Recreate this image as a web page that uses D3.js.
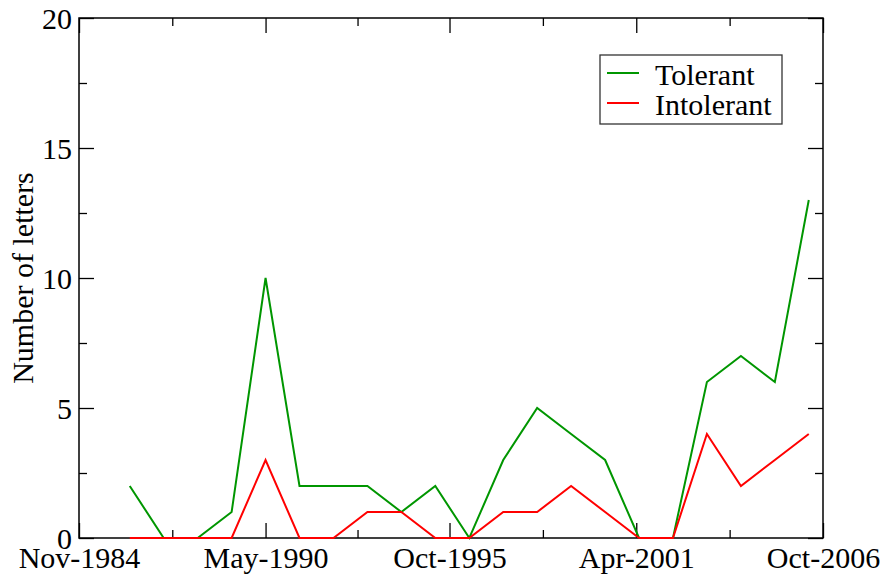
<!DOCTYPE html>
<html>
<head>
<meta charset="utf-8">
<script src="https://cdn.jsdelivr.net/npm/d3@7"></script>
<style>
  body { margin: 0; background: #fff; }
</style>
</head>
<body>
<div id="chart"></div>
<script>
// Data (one point per year, plotted in May)

const years = ["May-1986", "May-1987", "May-1988", "May-1989", "May-1990", "May-1991", "May-1992",
  "May-1993", "May-1994", "May-1995", "May-1996", "May-1997", "May-1998", "May-1999",
  "May-2000", "May-2001", "May-2002", "May-2003", "May-2004", "May-2005", "May-2006"];
const tolerant = [2, 0, 0, 1, 10, 2, 2, 2, 1, 2, 0, 3, 5, 4, 3, 0, 0, 6, 7, 6, 13];
const intolerant = [0, 0, 0, 0, 3, 0, 0, 1, 1, 0, 0, 1, 1, 2, 1, 0, 0, 4, 2, 3, 4];

const xTickLabels = ["Nov-1984", "May-1990", "Oct-1995", "Apr-2001", "Oct-2006"];
const yTicks = [0, 5, 10, 15, 20];
const yMinorTicks = [2.5, 7.5, 12.5, 17.5];

const font = "'Liberation Serif', 'DejaVu Serif', serif";

// Dimensions

const margin = { top: 18, right: 62, bottom: 37, left: 79 };
const width = 885 - margin.left - margin.right;
const height = 575 - margin.top - margin.bottom;

const parseDate = d3.timeParse("%b-%Y");
const xTicks = xTickLabels.map(parseDate);
const xMinorTicks = d3.pairs(xTicks).map(([a, b]) => new Date((+a + +b) / 2));

const series = [
  { name: "Tolerant", color: "#009600", values: tolerant },
  { name: "Intolerant", color: "#ff0000", values: intolerant }
];

// Scales

const x = d3.scaleTime()
    .domain([xTicks[0], xTicks[xTicks.length - 1]])
    .range([0, width]);

const y = d3.scaleLinear()
    .domain([0, 20])
    .range([height, 0]);

const svg = d3.select("#chart")
    .append("svg")
        .attr("width", 885)
        .attr("height", 575)
        .attr("font-family", font)
    .append("g")
        .attr("transform", `translate(${margin.left},${margin.top})`);

// Axes: ticks point inwards on all four sides

function styleAxis(g) {
    g.attr("font-family", font);
    g.select(".domain").remove();
    g.selectAll(".tick line").attr("stroke", "#000").attr("stroke-width", 1.3);
}

svg.append("g")
    .attr("transform", `translate(0,${height})`)
    .call(d3.axisBottom(x).tickValues(xMinorTicks).tickSize(-8).tickFormat(""))
    .call(styleAxis);

svg.append("g")
    .attr("transform", `translate(0,${height})`)
    .call(d3.axisBottom(x).tickValues(xTicks).tickSize(-15).tickFormat(d3.timeFormat("%b-%Y")))
    .call(styleAxis)
    .call(g => g.selectAll("text")
        .attr("y", 30)
        .attr("dy", 0)
        .attr("fill", "#000")
        .attr("font-family", font)
        .attr("font-size", 30));

svg.append("g")
    .call(d3.axisTop(x).tickValues(xMinorTicks).tickSize(-8).tickFormat(""))
    .call(styleAxis);

svg.append("g")
    .call(d3.axisTop(x).tickValues(xTicks).tickSize(-15).tickFormat(""))
    .call(styleAxis);

svg.append("g")
    .call(d3.axisLeft(y).tickValues(yMinorTicks).tickSize(-8).tickFormat(""))
    .call(styleAxis);

svg.append("g")
    .call(d3.axisLeft(y).tickValues(yTicks).tickSize(-15))
    .call(styleAxis)
    .call(g => g.selectAll("text")
        .attr("x", -7)
        .attr("dy", "0.34em")
        .attr("fill", "#000")
        .attr("font-family", font)
        .attr("font-size", 30));

svg.append("g")
    .attr("transform", `translate(${width},0)`)
    .call(d3.axisRight(y).tickValues(yMinorTicks).tickSize(-8).tickFormat(""))
    .call(styleAxis);

svg.append("g")
    .attr("transform", `translate(${width},0)`)
    .call(d3.axisRight(y).tickValues(yTicks).tickSize(-15).tickFormat(""))
    .call(styleAxis);

// frame

svg.append("rect")
    .attr("width", width)
    .attr("height", height)
    .attr("fill", "none")
    .attr("stroke", "#000")
    .attr("stroke-width", 1.5);

// y label

svg.append("text")
    .attr("transform", `translate(${-margin.left + 33},${height / 2})rotate(-90)`)
    .attr("text-anchor", "middle")
    .attr("font-family", font)
    .attr("font-size", 30)
    .text("Number of letters");

// lines

const line = d3.line()
    .x((d, i) => x(parseDate(years[i])))
    .y(d => y(d));

svg.selectAll(".series")
    .data(series)
    .join("path")
    .attr("fill", "none")
    .attr("stroke", d => d.color)
    .attr("stroke-width", 2)
    .attr("d", d => line(d.values));

// legend

const legend = svg.append("g")
    .attr("transform", `translate(${600 - margin.left},${55 - margin.top})`);

legend.append("rect")
    .attr("width", 182)
    .attr("height", 69)
    .attr("fill", "#fff")
    .attr("stroke", "#333")
    .attr("stroke-width", 1.3);

const item = legend.selectAll(".item")
    .data(series)
    .join("g")
    .attr("transform", (d, i) => `translate(0,${18 + i * 30})`);

item.append("line")
    .attr("x1", 7)
    .attr("x2", 39)
    .attr("stroke", d => d.color)
    .attr("stroke-width", 2);

item.append("text")
    .attr("x", 55)
    .attr("y", 12)
    .attr("font-family", font)
    .attr("font-size", 30)
    .text(d => d.name);
</script>
</body>
</html>
